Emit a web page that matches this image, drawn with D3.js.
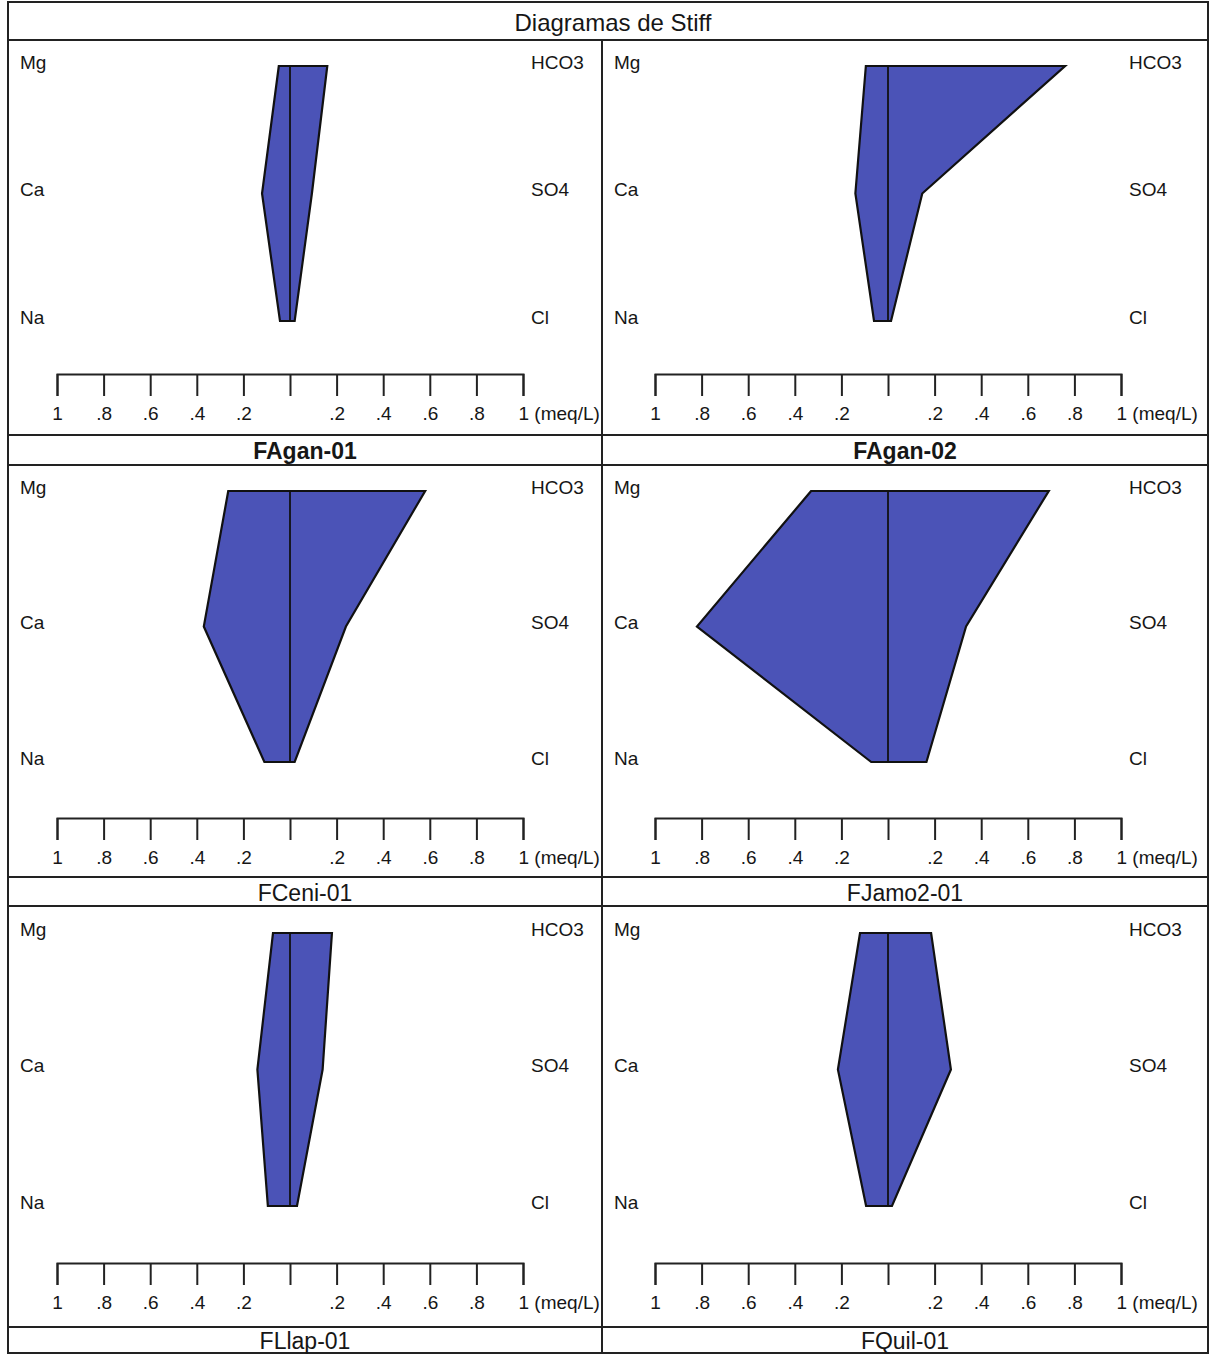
<!DOCTYPE html>
<html>
<head>
<meta charset="utf-8">
<script src="https://cdn.jsdelivr.net/npm/d3@7"></script>
<style>
  body { margin: 0; background: #fff; }
  text { font-family: "Liberation Sans", Arial, sans-serif; fill: #161616; }
</style>
</head>
<body>
<script>
// Stiff diagrams, meq/L
var sites = ["FAgan-01", "FAgan-02", "FCeni-01", "FJamo2-01", "FLlap-01", "FQuil-01"];
var boldSites = ["FAgan-01", "FAgan-02"];
var cations = ["Mg", "Ca", "Na"];
var anions = ["HCO3", "SO4", "Cl"];

var mg   = [0.048, 0.095, 0.265, 0.33, 0.073, 0.12];
var ca   = [0.12, 0.14, 0.37, 0.82, 0.14, 0.215];
var na   = [0.043, 0.06, 0.11, 0.072, 0.095, 0.094];
var hco3 = [0.16, 0.76, 0.58, 0.69, 0.18, 0.185];
var so4  = [0.094, 0.147, 0.24, 0.335, 0.14, 0.27];
var cl   = [0.02, 0.013, 0.02, 0.165, 0.03, 0.017];

var tickVals = [-1, -0.8, -0.6, -0.4, -0.2, 0, 0.2, 0.4, 0.6, 0.8, 1];
var tickLabels = ["1", ".8", ".6", ".4", ".2", "", ".2", ".4", ".6", ".8", "1 (meq/L)"];

var width = 1211, height = 1355;
var left = 8, right = 1208, mid = 602;
var rowTop = [40, 465, 906], rowLab = [435, 877, 1327], rowBot = [465, 906, 1353];
var polyTop = [66, 491, 933], polyBot = [321, 762, 1206], axisY = [374, 818, 1263];

var svg = d3.select("body").append("svg")
	.attr("width", width)
	.attr("height", height);

// frame
svg.append("rect")
	.attr("x", left).attr("y", 2)
	.attr("width", right - left).attr("height", rowBot[2] - 2)
	.attr("fill", "none").attr("stroke", "#222").attr("stroke-width", 2);

svg.append("text")
	.attr("x", 613).attr("y", 22)
	.attr("text-anchor", "middle").attr("dominant-baseline", "central")
	.style("font-size", "24px")
	.text("Diagramas de Stiff");

var hLines = [40].concat(rowLab, rowBot.slice(0, 2));
svg.selectAll(".hline")
	.data(hLines)
	.enter().append("line")
	.attr("x1", left).attr("x2", right)
	.attr("y1", function(d) { return d; }).attr("y2", function(d) { return d; })
	.attr("stroke", "#222").attr("stroke-width", 2);

svg.append("line")
	.attr("x1", mid).attr("x2", mid)
	.attr("y1", 40).attr("y2", rowBot[2])
	.attr("stroke", "#222").attr("stroke-width", 2);

var line = d3.line();

sites.forEach(function(site, i) {
	var col = i % 2, row = Math.floor(i / 2);
	var x0 = col ? mid : left;
	var x1 = col ? right : mid;
	var shift = col ? 4 : 0;

	var x = d3.scaleLinear()
		.domain([-1, 1])
		.range([x0 + 49 + shift, x0 + 515 + shift]);

	var y = d3.scalePoint()
		.domain([0, 1, 2])
		.range([polyTop[row], polyBot[row]]);

	var g = svg.append("g");

	var catVals = [mg[i], ca[i], na[i]];
	var anVals = [hco3[i], so4[i], cl[i]];

	var pts = [];
	catVals.forEach(function(v, k) { pts.push([x(-v), y(k)]); });
	for (var k = 2; k >= 0; k--) pts.push([x(anVals[k]), y(k)]);

	g.append("path")
		.attr("d", line(pts) + "Z")
		.attr("fill", "#4b53b7")
		.attr("stroke", "#111")
		.attr("stroke-width", 2.2)
		.attr("stroke-linejoin", "miter");

	g.append("line")
		.attr("x1", x(0)).attr("x2", x(0))
		.attr("y1", y(0)).attr("y2", y(2))
		.attr("stroke", "#111").attr("stroke-width", 1.8);

	g.selectAll(".cat")
		.data(cations)
		.enter().append("text")
		.attr("x", x0 + 12)
		.attr("y", function(d, k) { return y(k) - 4; })
		.attr("dominant-baseline", "central")
		.style("font-size", "19px")
		.text(function(d) { return d; });

	g.selectAll(".an")
		.data(anions)
		.enter().append("text")
		.attr("x", x0 + 523 + shift)
		.attr("y", function(d, k) { return y(k) - 4; })
		.attr("dominant-baseline", "central")
		.style("font-size", "19px")
		.text(function(d) { return d; });

	var axis = g.append("g")
		.attr("transform", "translate(0," + axisY[row] + ")")
		.call(d3.axisBottom(x)
			.tickValues(tickVals)
			.tickSize(22)
			.tickSizeOuter(22)
			.tickPadding(8)
			.tickFormat(function(d, k) { return tickLabels[k]; }));

	axis.attr("font-family", null).attr("font-size", null);
	axis.select(".domain").attr("stroke", "#222").attr("stroke-width", 2);
	axis.selectAll(".tick line").attr("stroke", "#222").attr("stroke-width", 2);
	axis.selectAll(".tick text")
		.attr("fill", null)
		.style("font-size", "19px")
		.attr("dy", "0.85em");
	axis.selectAll(".tick text")
		.filter(function(d, k) { return k === tickVals.length - 1; })
		.attr("text-anchor", "start")
		.attr("x", -5);

	svg.append("text")
		.attr("x", (x0 + x1) / 2)
		.attr("y", (rowLab[row] + rowBot[row]) / 2 + 1)
		.attr("text-anchor", "middle").attr("dominant-baseline", "central")
		.style("font-size", "23px")
		.style("font-weight", boldSites.indexOf(site) >= 0 ? "bold" : "normal")
		.text(site);
});
</script>
</body>
</html>
